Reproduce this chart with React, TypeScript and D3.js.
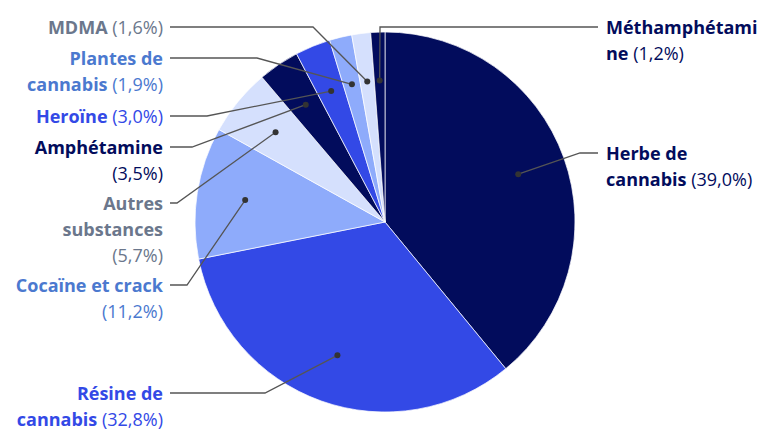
import React from "react";
import * as d3 from "d3";

const names = [
  "Herbe de cannabis",
  "Résine de cannabis",
  "Cocaïne et crack",
  "Autres substances",
  "Amphétamine",
  "Heroïne",
  "Plantes de cannabis",
  "MDMA",
  "Méthamphétamine",
];
const values = [39.0, 32.8, 11.2, 5.7, 3.5, 3.0, 1.9, 1.6, 1.2];
const valueLabels = ["39,0%", "32,8%", "11,2%", "5,7%", "3,5%", "3,0%", "1,9%", "1,6%", "1,2%"];
const sliceColors = ["#020c5c", "#3349e6", "#8eabfb", "#d5e0fd", "#020c5c", "#3349e6", "#8eabfb", "#d5e0fd", "#020c5c"];
const textColors = ["#020c5c", "#3349e6", "#4b79cf", "#6b778c", "#020c5c", "#3349e6", "#4b79cf", "#6b778c", "#020c5c"];
const labelLines: string[][] = [
  ["Herbe de", "cannabis"],
  ["Résine de", "cannabis"],
  ["Cocaïne et crack", ""],
  ["Autres", "substances", ""],
  ["Amphétamine", ""],
  ["Heroïne"],
  ["Plantes de", "cannabis"],
  ["MDMA"],
  ["Méthamphétami", "ne"],
];
// layout: side, first-line y, elbow x
const side = ["R", "L", "L", "L", "L", "L", "L", "L", "R"];
const labelY = [153, 393, 285, 203, 147, 116, 58, 27, 27];
const elbowX = [580, 265, 187, 177, 192, 207, 257, 313, 380];

const W = 770;
const H = 433;
const cx = 385;
const cy = 222;
const R = 190;
const lineH = 26;

export default function App() {
  const pie = d3.pie<number>().sort(null).value((d) => d)(values);
  const arc = d3.arc<d3.PieArcDatum<number>>().innerRadius(0).outerRadius(R);
  const dotR = R * 0.745;

  return (
    <svg width={W} height={H} style={{ position: "absolute", left: 0, top: 0, fontFamily: "'Open Sans', Lato, sans-serif" }}>
      <g transform={`translate(${cx},${cy})`}>
        {pie.map((p, i) => (
          <path key={i} d={arc(p) || ""} fill={sliceColors[i]} stroke="#ffffff" strokeOpacity={0.7} strokeWidth={1} />
        ))}
      </g>
      {pie.map((p, i) => {
        const mid = (p.startAngle + p.endAngle) / 2;
        const dx = cx + Math.sin(mid) * dotR;
        const dy = cy - Math.cos(mid) * dotR;
        const ey = labelY[i];
        const ex = elbowX[i];
        const endX = side[i] === "L" ? 170 : 598;
        const tx = side[i] === "L" ? 163 : 606;
        const anchor = side[i] === "L" ? "end" : "start";
        const lines = labelLines[i];
        return (
          <g key={i}>
            <polyline
              points={`${dx},${dy} ${ex},${ey} ${endX},${ey}`}
              fill="none"
              stroke="#555555"
              strokeWidth={1.3}
            />
            <circle cx={dx} cy={dy} r={3} fill="#333333" />
            <text textAnchor={anchor} fontSize={18} fill={textColors[i]}>
              {lines.map((ln, j) => (
                <tspan key={j} x={tx} y={ey + 6.5 + j * lineH}>
                  <tspan fontWeight={700}>{ln}</tspan>
                  {j === lines.length - 1 ? (
                    <tspan fontWeight={400}>{(ln ? " " : "") + "(" + valueLabels[i] + ")"}</tspan>
                  ) : null}
                </tspan>
              ))}
            </text>
          </g>
        );
      })}
    </svg>
  );
}
